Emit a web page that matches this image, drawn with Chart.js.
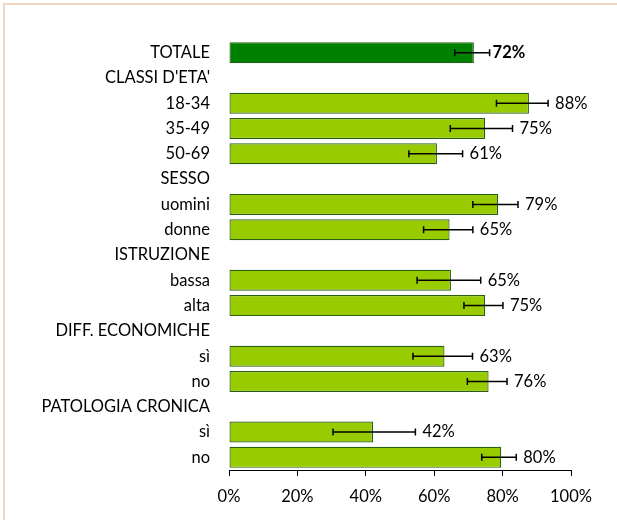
<!DOCTYPE html>
<html>
<head>
<meta charset="utf-8">
<script src="https://cdn.jsdelivr.net/npm/chart.js@4.4.0/dist/chart.umd.min.js"></script>
<style>
  html, body { margin: 0; padding: 0; background: #fff; overflow: hidden; }
  #wrap { position: relative; width: 617px; height: 520px; }
  #frame { position: absolute; left: 3px; top: 3px; width: 700px; height: 600px;
           border: 2px solid #f4d5c0; box-sizing: border-box; pointer-events: none; }
  canvas { position: absolute; left: 0; top: 0; }
</style>
</head>
<body>
<div id="wrap">
  <canvas id="grafico" width="617" height="520"></canvas>
  <div id="frame"></div>
</div>
<script>
// ─── Dati ──────────────────────────────────────
var categorie = ['TOTALE', "CLASSI D'ETA'", '18-34', '35-49', '50-69', 'SESSO', 'uomini', 'donne',
  'ISTRUZIONE', 'bassa', 'alta', 'DIFF. ECONOMICHE', 'sì', 'no', 'PATOLOGIA CRONICA', 'sì', 'no'];
var valori = [71.6, null, 87.7, 74.9, 60.8, null, 78.7, 64.5, null, 64.9, 74.9, null, 63.0, 75.9, null, 42.1, 79.6];
var icInf = [66.0, null, 78.2, 64.7, 52.6, null, 71.3, 56.9, null, 55.0, 68.7, null, 53.8, 69.7, null, 30.4, 73.9];
var icSup = [76.2, null, 93.3, 82.9, 68.3, null, 84.5, 71.3, null, 73.6, 80.1, null, 71.2, 81.3, null, 54.5, 84.0];
var tickX = [0, 20, 40, 60, 80, 100];

var FONT = 'Lato, "Open Sans", sans-serif';
var FSIZE = 16.5;

// colori: totale verde scuro, il resto verde chiaro
var colori = valori.map(function (v, i) { return i === 0 ? '#008000' : '#99cc00'; });

// ─── Plugin barre di errore + etichette ─────────
var erroriPlugin = {
  id: 'errori',
  afterDatasetsDraw: function (chart) {
    var ctx = chart.ctx;
    var xs = chart.scales.x;
    var meta = chart.getDatasetMeta(0);
    ctx.save();
    for (var i = 0; i < valori.length; i++) {
      if (valori[i] == null) continue;
      var y = meta.data[i].y;
      var x1 = xs.getPixelForValue(icInf[i]);
      var x2 = xs.getPixelForValue(icSup[i]);
      ctx.strokeStyle = '#000';
      ctx.lineWidth = 1.5;
      ctx.beginPath();
      ctx.moveTo(x1, y); ctx.lineTo(x2, y);
      ctx.moveTo(x1, y - 3.5); ctx.lineTo(x1, y + 3.5);
      ctx.moveTo(x2, y - 3.5); ctx.lineTo(x2, y + 3.5);
      ctx.stroke();

      ctx.fillStyle = '#000';
      ctx.font = (i === 0 ? 'bold ' : '') + FSIZE + 'px ' + FONT;
      ctx.textAlign = 'left';
      ctx.textBaseline = 'middle';
      ctx.fillText(Math.round(valori[i]) + '%', x2 + (i === 0 ? 3 : 7), y);
    }
    ctx.restore();
  }
};

new Chart(document.getElementById('grafico'), {
  type: 'bar',
  data: {
    labels: categorie,
    datasets: [{
      data: valori,
      backgroundColor: colori,
      borderColor: '#2a5e12',
      borderWidth: 1.2,
      borderSkipped: false,
      categoryPercentage: 1,
      barPercentage: 0.83
    }]
  },
  options: {
    indexAxis: 'y',
    responsive: false,
    animation: false,
    layout: { padding: { top: 40, right: 46, left: 0, bottom: 0 } },
    plugins: { legend: { display: false }, tooltip: { enabled: false } },
    scales: {
      x: {
        min: 0, max: 100,
        afterBuildTicks: function (axis) {
          axis.ticks = tickX.map(function (v) { return { value: v }; });
        },
        afterFit: function (axis) { axis.height = 50; },
        grid: { drawOnChartArea: false, drawTicks: true, tickLength: 6, color: '#000' },
        border: { display: true, color: '#000', width: 1 },
        ticks: {
          padding: 11,
          color: '#000',
          font: { family: FONT, size: FSIZE },
          callback: function (v) { return v + '%'; }
        }
      },
      y: {
        afterFit: function (axis) { axis.width = 229; },
        grid: { display: false, drawTicks: false },
        border: { display: false },
        ticks: {
          padding: 19,
          color: '#000',
          autoSkip: false,
          font: { family: FONT, size: FSIZE }
        }
      }
    }
  },
  plugins: [erroriPlugin]
});
</script>
</body>
</html>
